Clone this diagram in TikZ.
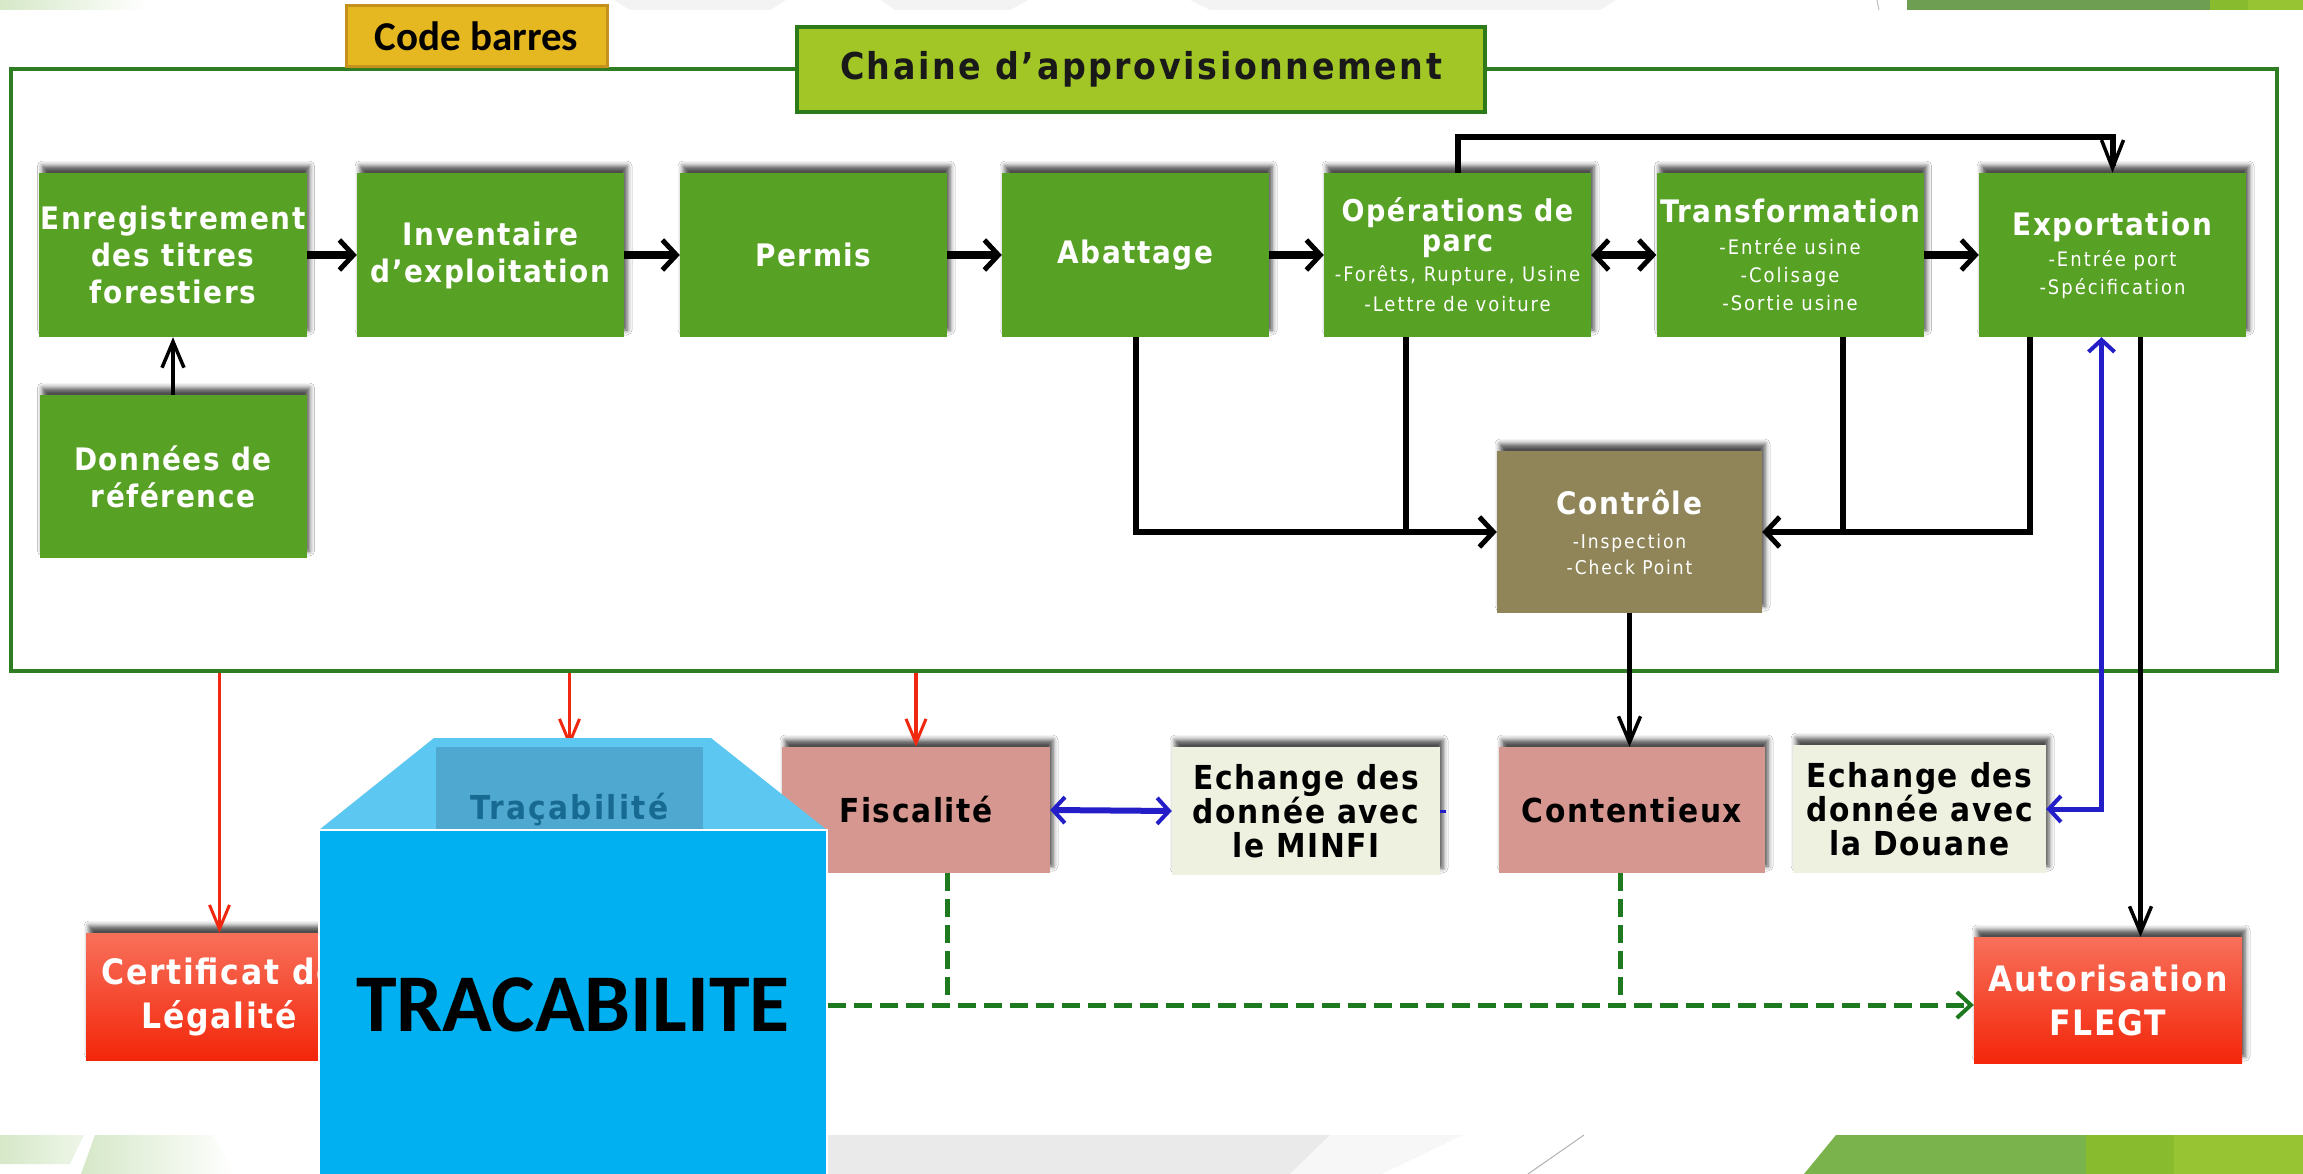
\documentclass[tikz,border=0pt]{standalone}
\usepackage{fontspec}
\usetikzlibrary{arrows.meta,shadows.blur,calc}
\IfFontExistsTF{DejaVu Sans Condensed Bold}
  {\newfontfamily\agb{DejaVu Sans Condensed Bold}[LetterSpace=5]
   \newfontfamily\agbw{DejaVu Sans Condensed Bold}[LetterSpace=7]}
  {\newfontfamily\agb{DejaVu Sans Bold}
   \newfontfamily\agbw{DejaVu Sans Bold}}
\IfFontExistsTF{DejaVu Sans Condensed}
  {\newfontfamily\agr{DejaVu Sans Condensed}[LetterSpace=10]}
  {\newfontfamily\agr{DejaVu Sans}}
\newfontfamily\calb{Carlito Bold}
\newcommand\fntTop{\agb\fontsize{31}{37}\selectfont}
\newcommand\fntOps{\agb\fontsize{30}{30}\selectfont}
\newcommand\fntSub{\agr\fontsize{20}{28}\selectfont}
\newcommand\fntCtl{\agr\fontsize{19}{26}\selectfont}
\newcommand\fntBot{\agb\fontsize{33}{34}\selectfont}
\newcommand\fntRed{\agb\fontsize{35}{44}\selectfont}
\newcommand\fntTitle{\agbw\fontsize{37}{40}\selectfont}
\newcommand\fntCode{\calb\fontsize{41}{44}\selectfont}
\newcommand\fntBig{\calb\fontsize{82}{90}\selectfont}
\newcommand\fntTrac{\agbw\fontsize{33}{36}\selectfont}
\definecolor{boxgreen}{RGB}{87,161,37}
\definecolor{framegreen}{RGB}{46,125,35}
\definecolor{titlegreen}{RGB}{161,198,38}
\definecolor{titleborder}{RGB}{44,122,26}
\definecolor{goldfill}{RGB}{229,183,32}
\definecolor{goldborder}{RGB}{196,146,28}
\definecolor{ctrlbrown}{RGB}{143,133,88}
\definecolor{pinkbox}{RGB}{213,151,143}
\definecolor{creambox}{RGB}{238,240,224}
\definecolor{redtop}{RGB}{248,112,90}
\definecolor{redbot}{RGB}{243,38,10}
\definecolor{bigblue}{RGB}{0,176,240}
\definecolor{lightblue}{RGB}{92,200,242}
\definecolor{tracbox}{RGB}{79,168,207}
\definecolor{tractext}{RGB}{23,106,146}
\definecolor{arrred}{RGB}{240,40,15}
\definecolor{arrblue}{RGB}{35,30,200}
\definecolor{dashgreen}{RGB}{30,122,30}
\definecolor{decogreen}{RGB}{122,179,76}
\definecolor{decogreenb}{RGB}{137,187,46}
\definecolor{decogreenc}{RGB}{151,196,51}
\definecolor{decotop}{RGB}{110,158,82}
\definecolor{palegreen}{RGB}{214,232,200}
\definecolor{decogray}{RGB}{234,234,234}
\begin{document}
\begin{tikzpicture}[x=1pt,y=-1pt,
  shadowed/.style={blur shadow={shadow xshift=3pt,shadow yshift=7pt,shadow blur radius=5pt,shadow opacity=70}},
  gbox/.style={fill=boxgreen,text=white,minimum width=267pt,minimum height=164pt,inner sep=1pt,align=center,font=\fntTop,shadowed},
  bbox/.style={minimum width=268pt,minimum height=126pt,inner sep=1pt,align=center,font=\fntBot,text=black,shadowed},
  redbox/.style={top color=redtop,bottom color=redbot,text=white,minimum width=267pt,minimum height=127pt,inner sep=1pt,align=center,font=\fntRed,shadowed},
  bigbarb/.tip={Straight Barb[length=14pt,width=30pt,line width=5pt]},
  midbarb/.tip={Straight Barb[length=14pt,width=30pt,line width=5pt]},
  longbarb/.tip={Straight Barb[length=28pt,width=22pt,line width=3.5pt]},
  thinbarb/.tip={Straight Barb[length=26pt,width=22pt,line width=3.5pt]},
  redbarb/.tip={Straight Barb[length=24pt,width=20pt,line width=3pt]},
  bluebarb/.tip={Straight Barb[length=12pt,width=26pt,line width=4pt]},
  greenbarb/.tip={Straight Barb[length=14pt,width=26pt,line width=4pt]},
  thickarr/.style={line width=8pt,-bigbarb},
  conn/.style={line width=6pt,black},
  redarr/.style={line width=3.5pt,arrred,-redbarb},
  blueline/.style={line width=5pt,arrblue},
  gdash/.style={line width=5pt,dashgreen,dash pattern=on 18pt off 8pt}]
\useasboundingbox (0,0) rectangle (2303,1174);
\clip (0,0) rectangle (2303,1174);
\fill[white] (0,0) rectangle (2303,1174);
% background decorations
\shade[left color=palegreen,right color=white] (0,0) rectangle (147,10);
\fill[decogray!60] (614,0) -- (786,0) -- (770,10) -- (630,10) -- cycle;
\fill[decogray!60] (881,0) -- (1028,0) -- (1010,10) -- (895,10) -- cycle;
\fill[decogray!60] (1190,0) -- (1616,0) -- (1600,10) -- (1210,10) -- cycle;
\draw[gray!50,line width=1pt] (1877,0) -- (1879,10);
\fill[decotop] (1907,0) rectangle (2303,10);
\fill[decogreenb] (2210,0) rectangle (2303,10);
\fill[decogreenc] (2248,0) rectangle (2303,10);
\shade[left color=palegreen,right color=palegreen!40] (0,1135) -- (84,1135) -- (70,1164) -- (0,1164) -- cycle;
\shade[left color=palegreen,right color=white] (95,1135) -- (213,1135) -- (235,1174) -- (81,1174) -- cycle;
\fill[decogray] (700,1135) -- (1462,1135) -- (1381,1174) -- (700,1174) -- cycle;
\fill[decogray!40] (1330,1135) -- (1462,1135) -- (1381,1174) -- (1290,1174) -- cycle;
\draw[gray!60,line width=1pt] (1584,1135) -- (1528,1174);
\fill[decogreen] (1836,1135) -- (2303,1135) -- (2303,1174) -- (1804,1174) -- cycle;
\fill[decogreenb] (2086,1135) -- (2303,1135) -- (2303,1174) -- (2086,1174) -- cycle;
\fill[decogreenc] (2174,1135) -- (2303,1135) -- (2303,1174) -- (2174,1174) -- cycle;
% frame and titles
\node[draw=framegreen,line width=3.5pt,minimum width=2266pt,minimum height=602pt,inner sep=0pt] (frame) at (1144,370) {};
\node[fill=goldfill,draw=goldborder,line width=3pt,minimum width=261pt,minimum height=61pt,inner sep=0pt,font=\fntCode] (code) at (476.5,36.5) {Code barres};
\node[fill=titlegreen,draw=titleborder,line width=4pt,minimum width=688pt,minimum height=85pt,inner sep=0pt,font=\fntTitle,text=black!90] (title) at (1141,69.5) {Chaine d’approvisionnement};
% top row
\node[gbox] (enr) at (173,255) {Enregistrement\\des titres\\forestiers};
\node[gbox] (inv) at (490.5,255) {Inventaire\\d’exploitation};
\node[gbox] (perm) at (813.5,255) {Permis};
\node[gbox] (abat) at (1135.5,255) {Abattage};
\node[gbox,font=\fntOps] (ops) at (1457.5,255) {Opérations de\\parc\\\fntSub -Forêts, Rupture, Usine\\\fntSub -Lettre de voiture};
\node[gbox,font=\fntSub] (trans) at (1790,255) {\fntTop Transformation\\[4pt]-Entrée usine\\-Colisage\\-Sortie usine};
\node[gbox,font=\fntSub] (expo) at (2112.5,255) {\fntTop Exportation\\[3pt]-Entrée port\\-Spécification};
\node[gbox,minimum height=163pt] (don) at (173,476.5) {Données de\\référence};
\node[gbox,fill=ctrlbrown,minimum width=265pt,minimum height=162pt,font=\fntCtl] (ctrl) at (1629.5,532) {\fntTop Contrôle\\[8pt]-Inspection\\-Check Point};
% top connectors
\draw[thickarr] (enr.east) -- (inv.west);
\draw[thickarr] (inv.east) -- (perm.west);
\draw[thickarr] (perm.east) -- (abat.west);
\draw[thickarr] (abat.east) -- (ops.west);
\draw[line width=8pt,bigbarb-bigbarb] (ops.east) -- (trans.west);
\draw[thickarr] (trans.east) -- (expo.west);
\draw[conn,-longbarb] (ops.north) -- ++(0,-36) -| (expo.north);
\draw[line width=4.5pt,-thinbarb] (don.north) -- (enr.south);
\draw[conn,-midbarb] (abat.south) |- (ctrl.west);
\draw[conn] ([xshift=-52pt]ops.south) -- ([xshift=-52pt]ops.south |- ctrl.west);
\draw[conn,-midbarb] ([xshift=-83pt]expo.south) |- (ctrl.east);
\draw[conn] ([xshift=53pt]trans.south) -- ([xshift=53pt]trans.south |- ctrl.east);
% bottom row
\node[bbox,fill=tracbox,text=tractext,font=\fntTrac,draw=none,blur shadow={shadow opacity=0}] (trac) at (569.5,810) {Traçabilité};
\node[bbox,fill=pinkbox] (fisc) at (916,810) {Fiscalité};
\node[bbox,fill=creambox,minimum height=128pt] (minfi) at (1306,811) {Echange des\\donnée avec\\le MINFI};
\node[bbox,fill=pinkbox,minimum width=266pt] (cont) at (1632,810) {Contentieux};
\node[bbox,fill=creambox,minimum width=253pt,minimum height=128pt] (dou) at (1919.5,809) {Echange des\\donnée avec\\la Douane};
\node[redbox] (cert) at (219.5,996.5) {Certificat de\\Légalité};
\node[redbox,minimum width=268pt,minimum height=126pt] (aut) at (2108,1000) {Autorisation\\FLEGT};
% bottom connectors
\draw[line width=4.5pt,-thinbarb] (ctrl.south) -- (ctrl.south |- cont.north);
\draw[line width=5pt,-thinbarb] ([xshift=28pt]expo.south) -- ([xshift=28pt]expo.south |- aut.north);
\draw[blueline,bluebarb-bluebarb] (dou.east) -| ([xshift=-11pt]expo.south);
\draw[blueline,line width=6pt,bluebarb-bluebarb] (fisc.east) -- (minfi.west);
\draw[blueline,line width=3pt] (minfi.east) -- ++(6,0);
\draw[redarr] (frame.south -| cert.north) -- (cert.north);
\draw[redarr] (frame.south -| fisc.north) -- (fisc.north);
\draw[redarr] (frame.south -| trac.north) -- (trac.north);
% tracabilite overlay
\fill[lightblue] (434,738) -- (711,738) -- (827,830) -- (319,830) -- cycle;
\node[fill=tracbox,text=tractext,font=\fntTrac,minimum width=267pt,minimum height=126pt,inner sep=1pt] at (trac.center) {Traçabilité};
\node[fill=bigblue,draw=white,line width=1.5pt,minimum width=508pt,minimum height=350pt,inner sep=0pt,font=\fntBig,text=black] (big) at (573,1005) {TRACABILITE};
\draw[gdash,-greenbarb] (big.east) -- (big.east -| aut.west);
\draw[gdash] ([xshift=31pt]fisc.south) -- ([xshift=31pt]fisc.south |- big.east);
\draw[gdash] ([xshift=-12pt]cont.south) -- ([xshift=-12pt]cont.south |- big.east);
\end{tikzpicture}
\end{document}
